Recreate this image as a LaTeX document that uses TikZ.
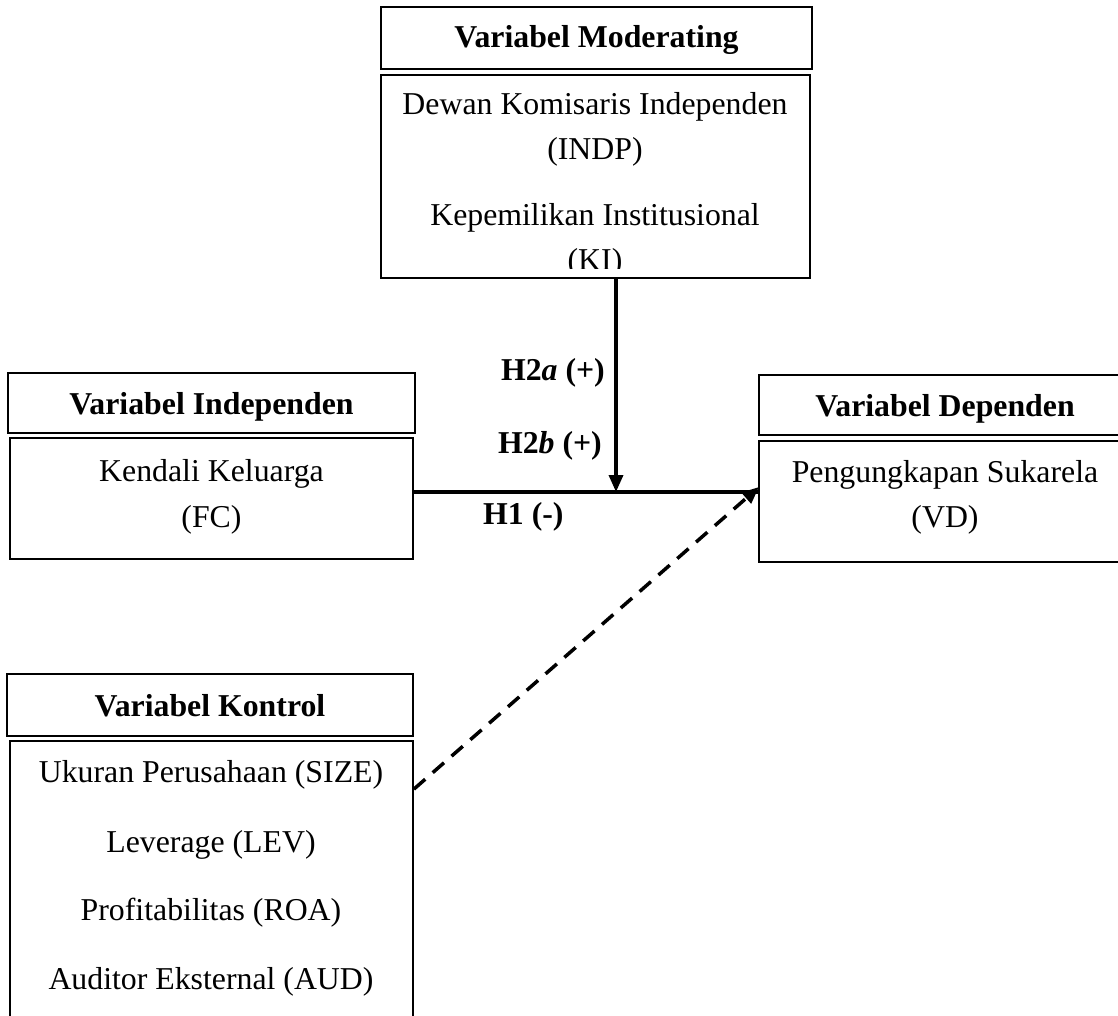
\documentclass[tikz,border=0pt]{standalone}
\usepackage{fontspec}
\setmainfont{Liberation Serif}
\usetikzlibrary{arrows.meta,calc}
\begin{document}
\begin{tikzpicture}[x=1pt,y=-1pt,
  box/.style={draw=black,line width=1.8pt,rectangle,inner sep=0pt},
  txt/.style={anchor=base,inner sep=0pt,font=\fontsize{31.8}{38}\selectfont},
  hdr/.style={txt,font=\fontsize{31.8}{38}\selectfont\bfseries},
  lbl/.style={inner sep=0pt,font=\fontsize{31.8}{38}\selectfont\bfseries},
  conn/.style={line width=3.5pt},
  arr/.style={conn,-{Triangle[length=17pt,width=14pt]}},
  darr/.style={conn,dash pattern=on 15pt off 10pt,-{Triangle[length=17pt,width=14pt]}}]
\useasboundingbox (0,0) rectangle (1118,1016);
\clip (0,0) rectangle (1118,1016);
\fill[white] (0,0) rectangle (1118,1016);

% Moderating
\node[box,minimum width=431pt,minimum height=62pt] (modhdr) at (596.5,38) {};
\node[hdr] (modhdrt) at (596.5,48) {Variabel Moderating};
\node[box,minimum width=429pt,minimum height=203pt] (modbody) at (595.5,176.5) {};
\node[txt] (indp1) at (595,115) {Dewan Komisaris Independen};
\node[txt] (indp2) at (595,160) {(INDP)};
\node[txt] (ki1) at (595,226) {Kepemilikan Institusional};
\begin{scope}
\clip (381,75) rectangle (810,268);
\node[txt] (ki2) at (595,270) {(KI)};
\end{scope}

% Independent
\node[box,minimum width=407pt,minimum height=60pt] (indhdr) at (211.5,403) {};
\node[hdr] (indhdrt) at (211.5,414) {Variabel Independen};
\node[box,minimum width=403pt,minimum height=121pt] (indbody) at (211.5,498.5) {};
\node[txt] (fc1) at (211.5,481) {Kendali Keluarga};
\node[txt] (fc2) at (211.5,527) {(FC)};

% Dependent
\node[box,minimum width=372pt,minimum height=60pt] (dephdr) at (945,405) {};
\node[hdr] (dephdrt) at (945,416) {Variabel Dependen};
\node[box,minimum width=372pt,minimum height=121pt] (depbody) at (945,501.5) {};
\node[txt] (vd1) at (945,482) {Pengungkapan Sukarela};
\node[txt] (vd2) at (945,527) {(VD)};

% Control
\node[box,minimum width=406pt,minimum height=62pt] (ctrlhdr) at (210,705) {};
\node[hdr] (ctrlhdrt) at (210,716) {Variabel Kontrol};
\node[box,minimum width=403pt,minimum height=300pt] (ctrlbody) at (211.5,891) {};
\node[txt] (c1) at (211,782) {Ukuran Perusahaan (SIZE)};
\node[txt] (c2) at (211,852) {Leverage (LEV)};
\node[txt] (c3) at (211,920) {Profitabilitas (ROA)};
\node[txt] (c4) at (211,989) {Auditor Eksternal (AUD)};

% Junctions
\coordinate (j) at (616,492);
\coordinate (ctrlout) at ($(ctrlbody.north east)+(0,49)$);
\coordinate (depin) at (759,487);

% Connectors
\draw[conn] (indbody.east |- j) -- (depbody.west |- j);
\draw[arr] (modbody.south -| j) -- (j);
\draw[darr] (ctrlout) -- (depin);

% Labels
\node[lbl,anchor=base east] (h2a) at (605,380) {H2\textit{a} (+)};
\node[lbl,anchor=base east] (h2b) at (602,453) {H2\textit{b} (+)};
\node[lbl,anchor=base west] (h1) at (483,524) {H1 (-)};
\end{tikzpicture}
\end{document}
